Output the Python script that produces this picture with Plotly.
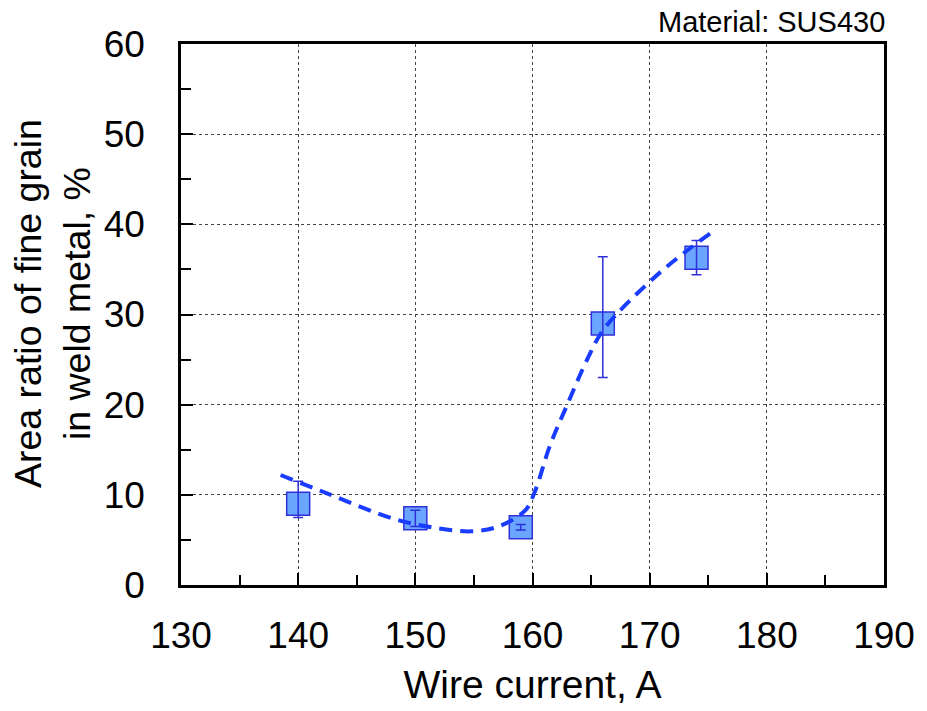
import plotly.graph_objects as go

# Data
current = [140, 150, 159, 166, 174]
area_ratio = [9.0, 7.4, 6.4, 29.0, 36.3]
err_plus = [2.5, 0.9, 0.3, 7.4, 1.9]
err_minus = [1.5, 0.9, 0.3, 6.0, 1.9]

trend_x = [138.5, 142.4, 148.0, 151.4, 154.8, 157.1, 159.4, 160.2, 161.5, 163.0, 164.7, 166.1, 170.4, 173.5, 175.4]
trend_y = [12.2, 10.2, 7.4, 6.4, 5.95, 6.5, 8.3, 10.35, 15.5, 20.1, 25.1, 28.4, 34.1, 37.4, 39.2]

x_ticks = [130, 140, 150, 160, 170, 180, 190]
y_ticks = [0, 10, 20, 30, 40, 50, 60]

FONT = "Liberation Sans, Arial, sans-serif"

fig = go.Figure()

fig.add_trace(go.Scatter(
    x=current, y=area_ratio, mode="markers",
    marker=dict(symbol="square", size=23, color="#6aa6ff",
                line=dict(color="#3030d8", width=1.5)),
    showlegend=False, hoverinfo="skip"))

fig.add_trace(go.Scatter(
    x=current, y=area_ratio, mode="markers",
    marker=dict(size=1, opacity=0),
    error_y=dict(type="data", array=err_plus, arrayminus=err_minus,
                 color="#3030d8", thickness=1.5, width=5),
    showlegend=False, hoverinfo="skip"))

fig.add_trace(go.Scatter(
    x=trend_x, y=trend_y, mode="lines",
    line=dict(color="#1a3cff", width=4, dash="13px,8px", shape="spline", smoothing=1.0),
    showlegend=False, hoverinfo="skip"))

axis_common = dict(
    showline=True, linecolor="black", linewidth=2.5, mirror=True,
    ticks="inside", ticklen=12, tickwidth=1.5, tickcolor="black",
    showgrid=True, gridcolor="#444444", gridwidth=1, griddash="dot",
    zeroline=False,
    tickfont=dict(family=FONT, size=37, color="black"),
)

fig.update_xaxes(
    range=[130, 190], tickvals=x_ticks, ticktext=[str(v) for v in x_ticks],
    minor=dict(ticks="inside", ticklen=10, dtick=5, tick0=130, tickcolor="black", tickwidth=1.5, showgrid=False),
    title=dict(text="Wire current, A", font=dict(family=FONT, size=39, color="black"), standoff=16),
    ticklabelstandoff=16,
    **axis_common)

fig.update_yaxes(
    range=[0, 60], tickvals=y_ticks, ticktext=[str(v) for v in y_ticks],
    minor=dict(ticks="inside", ticklen=10, dtick=5, tick0=0, tickcolor="black", tickwidth=1.5, showgrid=False),
    ticklabelstandoff=26,
    **axis_common)

fig.add_annotation(
    text="Area ratio of fine grain<br>in weld metal, %", textangle=-90,
    xref="paper", yref="paper", x=(52 - 181) / 706, y=0.5, yshift=11,
    xanchor="center", yanchor="middle", showarrow=False,
    font=dict(family=FONT, size=37.5, color="black"))

fig.add_annotation(
    text="Material: SUS430", xref="paper", yref="paper", x=1.0, y=1.0,
    xanchor="right", yanchor="bottom", xshift=3, yshift=4, showarrow=False,
    font=dict(family=FONT, size=29, color="black"))

fig.update_layout(
    width=927, height=711,
    margin=dict(l=181, r=40, t=44, b=124),
    paper_bgcolor="white", plot_bgcolor="white",
)

fig.write_html("out.html")
